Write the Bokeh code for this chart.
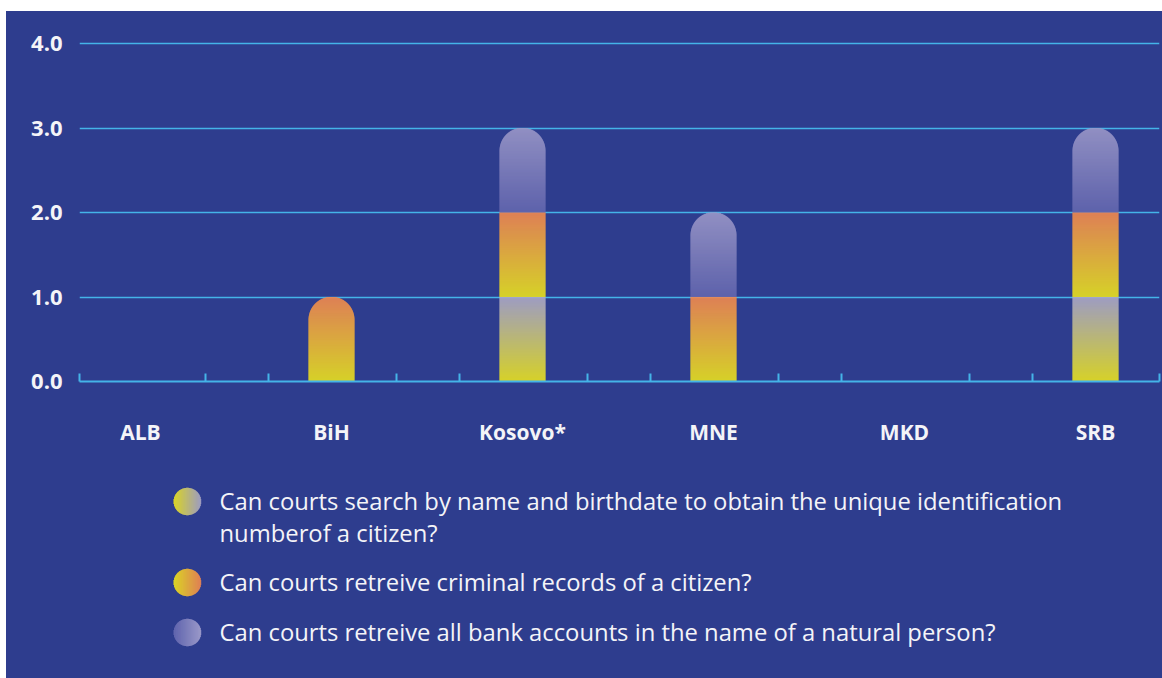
import math
from bokeh.plotting import figure
from bokeh.models import Range1d, FixedTicker, PrintfTickFormatter, CustomJSTickFormatter, Spacer
from bokeh.layouts import column, row
from bokeh.embed import file_html
from bokeh.resources import INLINE
from bokeh.core.properties import value

# ---------------- data ----------------
countries = ["ALB", "BiH", "Kosovo*", "MNE", "MKD", "SRB"]
search_by_name = [0, 0, 1, 0, 0, 1]
criminal_records = [0, 1, 1, 1, 0, 1]
bank_accounts = [0, 0, 1, 1, 0, 1]
y_ticks = [0, 1, 2, 3, 4]
legend_labels = [
    "Can courts search by name and birthdate to obtain the unique identification\nnumberof a citizen?",
    "Can courts retreive criminal records of a citizen?",
    "Can courts retreive all bank accounts in the name of a natural person?",
]

# ---------------- style ----------------
BG = "#2e3d8e"
GRID = "#44b4e8"
TXT = "#f4f4f8"
W = 1156
H_TOP = 454
H_LEG = 213
BL, BR, BT, BB = 73, 3, 28, 84
PX_X = 191.0      # pixels per category
PX_Y = 84.5       # pixels per unit
BAR_PX = 46.0
FONT = "Open Sans"

SEG_COLORS = [
    ((169, 166, 200), (232, 225, 30)),   # search by name (top, bottom)
    ((240, 135, 80), (232, 225, 30)),    # criminal records
    ((155, 152, 200), (99, 102, 174)),   # bank accounts
]
LEG_COLORS = [
    ((232, 225, 30), (169, 166, 198)),
    ((232, 225, 30), (240, 135, 80)),
    ((99, 103, 176), (165, 162, 206)),
]


def lerp(c1, c2, t):
    return "#%02x%02x%02x" % tuple(int(round(a + (b - a) * t)) for a, b in zip(c1, c2))


frame_w = W - BL - BR
frame_h = H_TOP - BT - BB
x_start = -61.0 / PX_X
x_end = x_start + frame_w / PX_X
y_end = frame_h / PX_Y

p = figure(width=W, height=H_TOP, x_range=Range1d(x_start, x_end), y_range=Range1d(0, y_end),
           output_backend="svg", toolbar_location=None,
           min_border_left=BL, min_border_right=BR, min_border_top=BT, min_border_bottom=BB,
           background_fill_color=None, border_fill_color=None, outline_line_color=None,
           styles={"background-color": BG})

# ---- stacked gradient bars with rounded top ----
series = [search_by_name, criminal_records, bank_accounts]
L, R, B, T, C = [], [], [], [], []
rad = BAR_PX / 2.0
for i in range(len(countries)):
    stack = [(s[i], SEG_COLORS[k]) for k, s in enumerate(series) if s[i] > 0]
    total = sum(v for v, _ in stack)
    base = 0.0
    for v, (ctop, cbot) in stack:
        n = int(round(v * PX_Y * 2))
        for k in range(n):
            s0 = base + v * k / n
            s1 = base + v * (k + 1) / n
            col = lerp(cbot, ctop, (k + 0.5) / n)
            d = (total - (s0 + s1) / 2.0) * PX_Y
            hw = math.sqrt(max(rad ** 2 - (rad - d) ** 2, 0.0)) if d < rad else rad
            L.append(i - hw / PX_X)
            R.append(i + hw / PX_X)
            B.append(s0)
            T.append(min(s1 + 0.35 / PX_Y, total))
            C.append(col)
        base += v

p.quad(left=L, right=R, bottom=B, top=T, fill_color=C, line_color=None)

# ---- axes ----
minor = [x_start + 0.002]
for i in range(len(countries) - 1):
    minor += [i + 0.34, i + 0.67]
minor.append(x_end - 0.002)

p.xaxis.ticker = FixedTicker(ticks=list(range(len(countries))), minor_ticks=minor)
p.xaxis.formatter = CustomJSTickFormatter(args=dict(labels=countries),
                                          code="return labels[Math.round(tick)] || '';")
p.xaxis.major_tick_line_color = None
p.xaxis.major_tick_out = 0
p.xaxis.major_tick_in = 0
p.xaxis.minor_tick_line_color = GRID
p.xaxis.minor_tick_line_width = 2
p.xaxis.minor_tick_in = 8
p.xaxis.minor_tick_out = 0
p.xaxis.axis_line_color = GRID
p.xaxis.axis_line_width = 2
p.xaxis.major_label_standoff = 36
p.xaxis.major_label_text_font = FONT
p.xaxis.major_label_text_font_style = "bold"
p.xaxis.major_label_text_font_size = "21px"
p.xaxis.major_label_text_color = TXT

p.yaxis.ticker = FixedTicker(ticks=y_ticks)
p.yaxis.formatter = PrintfTickFormatter(format="%.1f")
p.yaxis.axis_line_color = None
p.yaxis.major_tick_line_color = None
p.yaxis.minor_tick_line_color = None
p.yaxis.major_tick_out = 0
p.yaxis.major_tick_in = 0
p.yaxis.major_label_standoff = 17
p.yaxis.major_label_text_font = FONT
p.yaxis.major_label_text_font_style = "bold"
p.yaxis.major_label_text_font_size = "22px"
p.yaxis.major_label_text_color = TXT

p.xgrid.visible = False
p.ygrid.ticker = FixedTicker(ticks=y_ticks[1:])
p.ygrid.grid_line_color = GRID
p.ygrid.grid_line_width = 1.6

# ---------------- legend figure (data units = page pixels) ----------------
TOP_Y = 11 + H_TOP
q = figure(width=W, height=H_LEG,
           x_range=Range1d(6 + BL, 6 + W - BR), y_range=Range1d(TOP_Y + H_LEG, TOP_Y),
           output_backend="svg", toolbar_location=None,
           min_border_left=BL, min_border_right=BR, min_border_top=0, min_border_bottom=0,
           x_axis_type=None, y_axis_type=None,
           background_fill_color=None, border_fill_color=None, outline_line_color=None,
           styles={"background-color": BG})
q.grid.visible = False

circ_x = 186.7
circ_r = 13.7
text_x = 219
row_base = [510, 591, 641]     # baseline of first line of each entry
line_gap = 32
cap_mid = 9.0                  # circle centre above baseline
text_shift = 10                # rendering offset correction for text

cl, cr, cb, ct, cc = [], [], [], [], []
tx, ty, tt = [], [], []
for k, lab in enumerate(legend_labels):
    cy = row_base[k] - cap_mid
    n = int(round(circ_r * 4))
    for j in range(n):
        x0 = circ_x - circ_r + 2 * circ_r * j / n
        x1 = circ_x - circ_r + 2 * circ_r * (j + 1) / n
        xm = (x0 + x1) / 2 - circ_x
        hh = math.sqrt(max(circ_r ** 2 - xm ** 2, 0.0))
        cl.append(x0)
        cr.append(x1 + 0.3)
        cb.append(cy - hh)
        ct.append(cy + hh)
        cc.append(lerp(LEG_COLORS[k][0], LEG_COLORS[k][1], (j + 0.5) / n))
    for m, line in enumerate(lab.split("\n")):
        tx.append(text_x)
        ty.append(row_base[k] + m * line_gap - text_shift)
        tt.append(line)

q.quad(left=cl, right=cr, bottom=cb, top=ct, fill_color=cc, line_color=None)
q.text(x=tx, y=ty, text=tt, text_font=value(FONT), text_font_size="23.8px",
       text_baseline="alphabetic", text_align="left", text_color=TXT)

inner = column(p, q, spacing=0, styles={"background-color": BG})
layout = column(Spacer(height=11), row(Spacer(width=6), inner, spacing=0), spacing=0)
open("out.html", "w").write(file_html(layout, INLINE))
